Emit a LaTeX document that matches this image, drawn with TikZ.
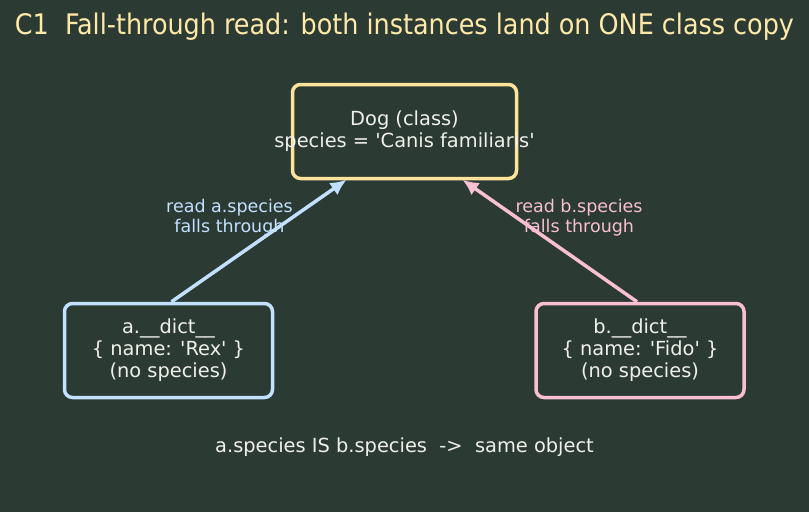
\documentclass[tikz,border=0pt]{standalone}
\usepackage{fontspec}
\setmainfont{DejaVu Sans}
\newfontfamily\titlefont{DejaVu Sans Condensed}
\usetikzlibrary{arrows.meta,positioning}
\definecolor{bgcol}{HTML}{2B3A33}
\definecolor{titlecol}{HTML}{FFE9A8}
\definecolor{classcol}{HTML}{FFE39A}
\definecolor{acol}{HTML}{C2E1FF}
\definecolor{bcol}{HTML}{F9BFD2}
\definecolor{txtcol}{HTML}{F0F0EA}
\newcommand{\sq}{\textquotesingle}
\newcommand{\wideline}[1]{\makebox[0pt][c]{#1}}
\tikzstyle{objbox}=[draw, rounded corners=8pt, line width=3.5pt, minimum width=224pt, minimum height=94pt, align=center, text=txtcol, font=\fontsize{19.4}{22}\selectfont]
\tikzstyle{readArrow}=[line width=3.5pt, -{Latex[length=16pt,width=15pt]}]
\tikzstyle{readLabel}=[align=center, font=\fontsize{17.5}{20}\selectfont]

\begin{document}
\begin{tikzpicture}[x=1pt,y=-1pt]
    \fill[bgcol] (0,0) rectangle (809,512);
    \useasboundingbox (0,0) rectangle (809,512);

    % title
    \node[text=titlecol, font=\titlefont\fontsize{28.3}{32}\selectfont] (title) at (404.5,27) {C1\ \ Fall-through read: both instances land on ONE class copy};

    % nodes
    \node[objbox, draw=classcol] (dog) at (404.5,131.5) {Dog (class)\\\wideline{species = \sq Canis familiaris\sq}};
    \node[objbox, draw=acol, minimum width=208pt] (adict) at (168.5,350.5) {a.\_\_dict\_\_\\\{ name: \sq Rex\sq\ \}\\(no species)};
    \node[objbox, draw=bcol, minimum width=208pt] (bdict) at (640,350.5) {b.\_\_dict\_\_\\\{ name: \sq Fido\sq\ \}\\(no species)};
    \coordinate (dogA) at ([xshift=-58pt,yshift=0.5pt]dog.south);
    \coordinate (dogB) at ([xshift=58pt,yshift=0.5pt]dog.south);

    % Arcs
    \draw[readArrow, acol] ([xshift=3pt]adict.north) -- (dogA);
    \draw[readArrow, bcol] ([xshift=-3pt]bdict.north) -- (dogB);
    \node[readLabel, text=acol] (alabel) at (229.5,218) {read a.species\\falls through};
    \node[readLabel, text=bcol] (blabel) at (579,218) {read b.species\\falls through};

    % note
    \node[text=txtcol, font=\fontsize{19.4}{22}\selectfont] (note) at (404.5,447) {a.species IS b.species\ \ ->\ \ same object};
\end{tikzpicture}
\end{document}
